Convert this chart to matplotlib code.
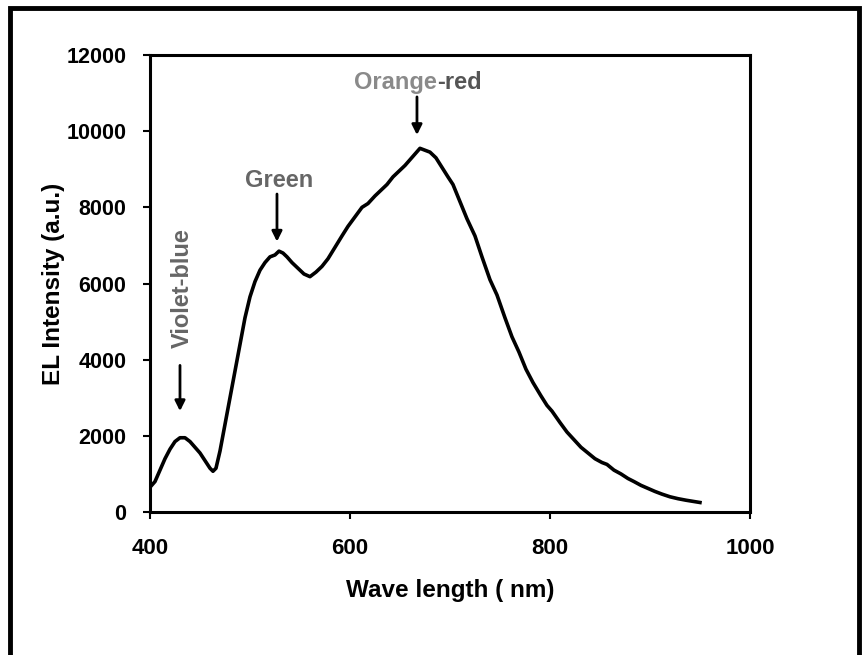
import matplotlib
matplotlib.use("Agg")
import matplotlib.pyplot as plt
from matplotlib.patches import Rectangle

plt.rcParams['font.family'] = ['Liberation Sans', 'DejaVu Sans']

wavelength = [400, 405, 410, 415, 420, 425, 430, 435, 440, 445, 450, 455, 460, 463, 466,
              470, 475, 480, 485, 490, 495, 500, 505, 510, 515, 520, 525, 529, 533, 537,
              542, 548, 554, 560, 566, 572, 578, 585, 592, 598, 605, 612, 618, 625, 631,
              637, 643, 649, 655, 660, 665, 670, 675, 680, 686, 692, 698, 703, 710, 717,
              725, 732, 740, 747, 755, 762, 769, 776, 783, 791, 797, 802, 810, 817, 824,
              831, 838, 845, 852, 857, 864, 871, 878, 884, 891, 898, 905, 912, 920, 928,
              936, 943, 950]
intensity = [650, 800, 1100, 1400, 1650, 1850, 1950, 1950, 1850, 1700, 1550, 1350, 1150, 1070, 1150,
             1600, 2300, 3000, 3700, 4400, 5100, 5650, 6050, 6350, 6550, 6700, 6750, 6850, 6800, 6700,
             6550, 6400, 6250, 6180, 6300, 6450, 6650, 6950, 7250, 7500, 7750, 8000, 8100, 8300, 8450,
             8600, 8800, 8950, 9100, 9250, 9400, 9550, 9500, 9450, 9300, 9050, 8800, 8600, 8150, 7700,
             7250, 6700, 6100, 5700, 5100, 4600, 4200, 3750, 3400, 3050, 2800, 2650, 2350, 2100, 1900,
             1700, 1550, 1400, 1300, 1250, 1100, 1000, 880, 800, 700, 620, 540, 470, 400, 350,
             310, 280, 250]

xticks = [400, 600, 800, 1000]
yticks = [0, 2000, 4000, 6000, 8000, 10000, 12000]

fig = plt.figure(figsize=(8.65, 6.55), dpi=100)
ax = fig.add_axes([0.1734, 0.2183, 0.6936, 0.6977])

ax.plot(wavelength, intensity, color='black', linewidth=2.6)

ax.set_xlim(400, 1000)
ax.set_ylim(0, 12000)
ax.set_xticks(xticks)
ax.set_yticks(yticks)
ax.set_xticklabels([str(t) for t in xticks], fontsize=16, fontweight='bold')
ax.set_yticklabels([str(t) for t in yticks], fontsize=15.5, fontweight='bold')
ax.tick_params(axis='both', direction='out', length=5, width=1.5, colors='black')
ax.tick_params(axis='x', pad=14)
ax.tick_params(axis='y', pad=12)
for s in ax.spines.values():
    s.set_linewidth(2.2)
    s.set_color('black')

ax.set_xlabel('Wave length ( nm)', fontsize=17.5, fontweight='bold', labelpad=14)
ax.set_ylabel('EL Intensity (a.u.)', fontsize=17.5, fontweight='bold', labelpad=1)

arrowprops = dict(arrowstyle='-|>', color='black', lw=2, mutation_scale=15, shrinkA=0, shrinkB=0)
# Orange-red
ax.annotate('', xy=(667, 9900), xytext=(667, 10900), arrowprops=arrowprops)
ax.text(687, 11280, 'Orange', color='#8a8a8a', fontsize=17, fontweight='bold', ha='right', va='center')
ax.text(687, 11280, '-red', color='#555555', fontsize=17, fontweight='bold', ha='left', va='center')
# Green
ax.annotate('', xy=(527, 7100), xytext=(527, 8350), arrowprops=arrowprops)
ax.text(529, 8700, 'Green', color='#666666', fontsize=17, fontweight='bold', ha='center', va='center')
# Violet-blue
ax.annotate('', xy=(430, 2650), xytext=(430, 3850), arrowprops=arrowprops)
ax.text(432, 5880, 'Violet-blue', color='#666666', fontsize=17, fontweight='bold',
        ha='center', va='center', rotation=90)

fig.patches.append(Rectangle((0.0116, -0.05), 0.981, 1.038, transform=fig.transFigure,
                             fill=False, edgecolor='black', linewidth=3.5))

fig.savefig('out.png', dpi=100, facecolor='white')
